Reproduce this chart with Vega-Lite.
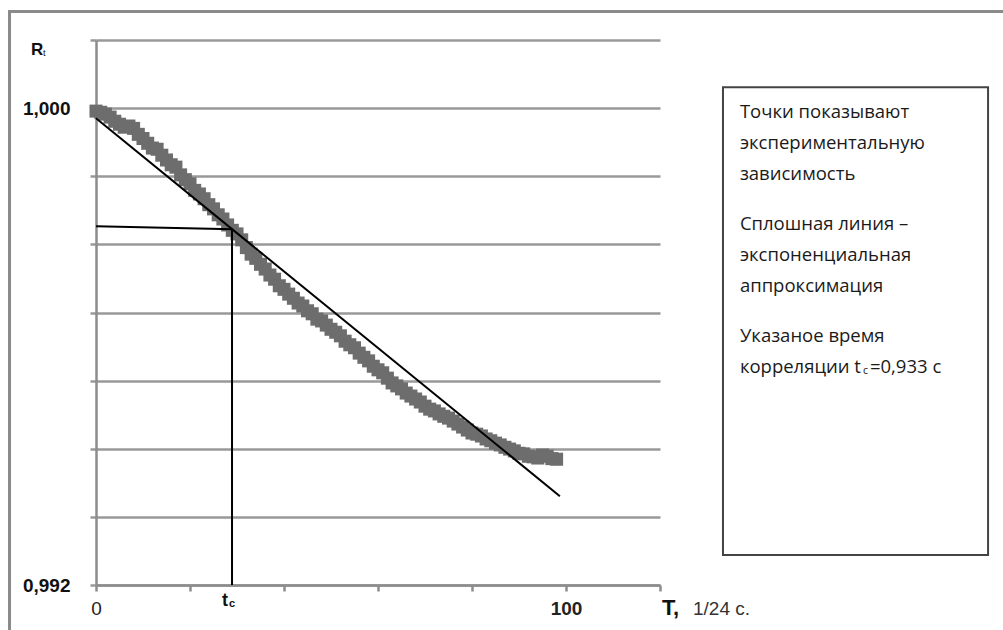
{
  "$schema": "https://vega.github.io/schema/vega-lite/v6.json",
  "width": 564,
  "height": 545,
  "autosize": {"type": "none"},
  "padding": {"left": 96, "top": 40, "right": 343, "bottom": 45},
  "background": "white",
  "config": {
    "view": {"stroke": null},
    "font": "Liberation Sans",
    "axisX": {"labelFontSize": 19, "labelPadding": 8},
    "axisY": {"labelFontSize": 19, "labelPadding": 20, "labelFontWeight": "bold"}
  },
  "datasets": {
    "one": [{}],
    "points": [
      {"T":0,"R":0.99995},{"T":1,"R":0.99993},{"T":2,"R":0.9999},{"T":3,"R":0.99985},{"T":4,"R":0.99978},
      {"T":5,"R":0.99973},{"T":6,"R":0.99968},{"T":7,"R":0.9997},{"T":8,"R":0.99966},{"T":9,"R":0.99956},
      {"T":10,"R":0.99949},{"T":11,"R":0.99941},{"T":12,"R":0.99933},{"T":13,"R":0.99931},{"T":14,"R":0.99921},
      {"T":15,"R":0.99913},{"T":16,"R":0.99905},{"T":17,"R":0.99901},{"T":18,"R":0.99888},{"T":19,"R":0.9988},
      {"T":20,"R":0.99873},{"T":21,"R":0.99862},{"T":22,"R":0.99856},{"T":23,"R":0.99848},{"T":24,"R":0.99838},
      {"T":25,"R":0.99831},{"T":26,"R":0.99821},{"T":27,"R":0.99814},{"T":28,"R":0.99804},{"T":29,"R":0.99795},
      {"T":30,"R":0.99789},{"T":31,"R":0.99779},{"T":32,"R":0.99766},{"T":33,"R":0.99755},{"T":34,"R":0.99748},
      {"T":35,"R":0.99738},{"T":36,"R":0.9973},{"T":37,"R":0.9972},{"T":38,"R":0.99713},{"T":39,"R":0.99702},
      {"T":40,"R":0.99696},{"T":41,"R":0.99688},{"T":42,"R":0.99681},{"T":43,"R":0.99673},{"T":44,"R":0.99668},
      {"T":45,"R":0.9966},{"T":46,"R":0.99655},{"T":47,"R":0.99646},{"T":48,"R":0.99643},{"T":49,"R":0.99636},
      {"T":50,"R":0.99629},{"T":51,"R":0.99624},{"T":52,"R":0.99618},{"T":53,"R":0.99609},{"T":54,"R":0.99603},
      {"T":55,"R":0.99598},{"T":56,"R":0.99589},{"T":57,"R":0.99582},{"T":58,"R":0.99576},{"T":59,"R":0.99567},
      {"T":60,"R":0.99561},{"T":61,"R":0.99556},{"T":62,"R":0.99547},{"T":63,"R":0.99539},{"T":64,"R":0.99534},
      {"T":65,"R":0.99529},{"T":66,"R":0.99522},{"T":67,"R":0.99517},{"T":68,"R":0.99512},{"T":69,"R":0.99507},
      {"T":70,"R":0.995},{"T":71,"R":0.99495},{"T":72,"R":0.99492},{"T":73,"R":0.99487},{"T":74,"R":0.99483},
      {"T":75,"R":0.9948},{"T":76,"R":0.99475},{"T":77,"R":0.9947},{"T":78,"R":0.99465},{"T":79,"R":0.9946},
      {"T":80,"R":0.99455},{"T":81,"R":0.99453},{"T":82,"R":0.9945},{"T":83,"R":0.99445},{"T":84,"R":0.99442},
      {"T":85,"R":0.99438},{"T":86,"R":0.99435},{"T":87,"R":0.99431},{"T":88,"R":0.99428},{"T":89,"R":0.99425},
      {"T":90,"R":0.99421},{"T":91,"R":0.9942},{"T":92,"R":0.99416},{"T":93,"R":0.99415},{"T":94,"R":0.99413},
      {"T":95,"R":0.99418},{"T":96,"R":0.99416},{"T":97,"R":0.99412},{"T":98,"R":0.99411}
    ],
    "fit": [{"T": 0, "R": 0.99983}, {"T": 98.7, "R": 0.99349}],
    "tc": [{"i": 0, "T": 0, "R": 0.99802}, {"i": 1, "T": 28.94, "R": 0.99797}, {"i": 2, "T": 28.94, "R": 0.992}]
  },
  "layer": [
    {
      "data": {"name": "points"},
      "mark": {"type": "square", "size": 170, "color": "#6d6d6d", "opacity": 1, "filled": true},
      "encoding": {
        "x": {
          "field": "T", "type": "quantitative", "title": null,
          "scale": {"domain": [0, 120], "nice": false, "zero": false},
          "axis": {
            "values": [0, 20, 40, 60, 80, 100, 120],
            "labelExpr": "datum.value == 0 ? '0' : datum.value == 100 ? '100' : ''",
            "grid": false,
            "domainColor": "#8c8c8c", "domainWidth": 2.5,
            "tickColor": "#8c8c8c", "tickWidth": 2.5, "tickSize": 6,
            "labelFontSize": 19, "labelColor": "#222",
            "labelFontWeight": {"condition": {"test": "datum.value == 100", "value": "bold"}, "value": "normal"},
            "labelPadding": 8, "labelFlush": false
          }
        },
        "y": {
          "field": "R", "type": "quantitative", "title": null,
          "scale": {"domain": [0.992, 1.00114286], "nice": false, "zero": false},
          "axis": {
            "values": [0.992, 0.99314286, 0.99428571, 0.99542857, 0.99657143, 0.99771429, 0.99885714, 1.0, 1.00114286],
            "labelExpr": "abs(datum.value - 1) < 0.000001 ? '1,000' : abs(datum.value - 0.992) < 0.000001 ? '0,992' : ''",
            "grid": true, "gridColor": "#999999", "gridWidth": 2.5,
            "domainColor": "#8c8c8c", "domainWidth": 2.5,
            "tickColor": "#999999", "tickWidth": 2.5, "tickSize": 6,
            "labelFontSize": 19, "labelFontWeight": "bold", "labelColor": "#111",
            "labelPadding": 20, "labelFlush": false
          }
        }
      }
    },
    {
      "data": {"name": "one"},
      "mark": {"type": "rect", "fill": null, "stroke": "#8a8a8a", "strokeWidth": 3},
      "encoding": {
        "x": {"datum": -18.4, "type": "quantitative", "title": null},
        "x2": {"datum": 260},
        "y": {"datum": 1.00162, "type": "quantitative", "title": null},
        "y2": {"datum": 0.98}
      }
    },
    {
      "data": {"name": "fit"},
      "mark": {"type": "line", "color": "#000000", "strokeWidth": 2},
      "encoding": {
        "x": {"field": "T", "type": "quantitative", "title": null},
        "y": {"field": "R", "type": "quantitative", "title": null}
      }
    },
    {
      "data": {"name": "tc"},
      "mark": {"type": "line", "color": "#000000", "strokeWidth": 2},
      "encoding": {
        "x": {"field": "T", "type": "quantitative", "title": null},
        "y": {"field": "R", "type": "quantitative", "title": null},
        "order": {"field": "i"}
      }
    },
    {
      "data": {"name": "one"},
      "mark": {"type": "text", "text": "t", "fontSize": 18, "fontWeight": "bold", "align": "left", "baseline": "alphabetic", "dx": -10, "dy": 21, "color": "#111"},
      "encoding": {"x": {"datum": 28.94, "type": "quantitative", "title": null}, "y": {"datum": 0.992, "type": "quantitative", "title": null}}
    },
    {
      "data": {"name": "one"},
      "mark": {"type": "text", "text": "c", "fontSize": 11, "fontWeight": "bold", "align": "left", "baseline": "alphabetic", "dx": -3, "dy": 22, "color": "#111"},
      "encoding": {"x": {"datum": 28.94, "type": "quantitative", "title": null}, "y": {"datum": 0.992, "type": "quantitative", "title": null}}
    },
    {
      "data": {"name": "one"},
      "mark": {"type": "text", "text": "R", "fontSize": 17, "fontWeight": "bold", "align": "left", "baseline": "alphabetic", "dx": -65, "dy": 15, "color": "#111"},
      "encoding": {"x": {"datum": 0, "type": "quantitative", "title": null}, "y": {"datum": 1.00114286, "type": "quantitative", "title": null}}
    },
    {
      "data": {"name": "one"},
      "mark": {"type": "text", "text": "t", "fontSize": 9, "fontWeight": "normal", "align": "left", "baseline": "alphabetic", "dx": -53, "dy": 16, "color": "#111"},
      "encoding": {"x": {"datum": 0, "type": "quantitative", "title": null}, "y": {"datum": 1.00114286, "type": "quantitative", "title": null}}
    },
    {
      "data": {"name": "one"},
      "mark": {"type": "text", "text": "T,", "fontSize": 22, "fontWeight": "bold", "align": "left", "baseline": "alphabetic", "dx": 2, "dy": 30, "color": "#111"},
      "encoding": {"x": {"datum": 120, "type": "quantitative", "title": null}, "y": {"datum": 0.992, "type": "quantitative", "title": null}}
    },
    {
      "data": {"name": "one"},
      "mark": {"type": "text", "text": "1/24 с.", "fontSize": 19, "align": "left", "baseline": "alphabetic", "dx": 33, "dy": 30, "color": "#333"},
      "encoding": {"x": {"datum": 120, "type": "quantitative", "title": null}, "y": {"datum": 0.992, "type": "quantitative", "title": null}}
    },
    {
      "data": {"name": "one"},
      "mark": {"type": "rect", "fill": "white", "stroke": "#444444", "strokeWidth": 2},
      "encoding": {
        "x": {"datum": 133.4, "type": "quantitative", "title": null},
        "x2": {"datum": 189.8},
        "y": {"datum": 1.000352, "type": "quantitative", "title": null},
        "y2": {"datum": 0.992504}
      }
    },
    {
      "data": {"name": "one"},
      "mark": {"type": "text", "text": ["Точки показывают", "экспериментальную", "зависимость"], "font": "Open Sans", "fontSize": 18.5, "lineHeight": 31, "align": "left", "baseline": "alphabetic", "color": "#1a1a1a"},
      "encoding": {"x": {"datum": 137, "type": "quantitative", "title": null}, "y": {"datum": 0.999832, "type": "quantitative", "title": null}}
    },
    {
      "data": {"name": "one"},
      "mark": {"type": "text", "text": ["Сплошная линия –", "экспоненциальная", "аппроксимация"], "font": "Open Sans", "fontSize": 18.5, "lineHeight": 31, "align": "left", "baseline": "alphabetic", "color": "#1a1a1a"},
      "encoding": {"x": {"datum": 137, "type": "quantitative", "title": null}, "y": {"datum": 0.997954, "type": "quantitative", "title": null}}
    },
    {
      "data": {"name": "one"},
      "mark": {"type": "text", "text": ["Указаное время", "корреляции t"], "font": "Open Sans", "fontSize": 18.5, "lineHeight": 31, "align": "left", "baseline": "alphabetic", "color": "#1a1a1a"},
      "encoding": {"x": {"datum": 137, "type": "quantitative", "title": null}, "y": {"datum": 0.996075, "type": "quantitative", "title": null}}
    },
    {
      "data": {"name": "one"},
      "mark": {"type": "text", "text": "c", "font": "Open Sans", "fontSize": 10.5, "align": "left", "baseline": "alphabetic", "dx": 123, "dy": 32, "color": "#1a1a1a"},
      "encoding": {"x": {"datum": 137, "type": "quantitative", "title": null}, "y": {"datum": 0.996075, "type": "quantitative", "title": null}}
    },
    {
      "data": {"name": "one"},
      "mark": {"type": "text", "text": "=0,933 с", "font": "Open Sans", "fontSize": 18.5, "align": "left", "baseline": "alphabetic", "dx": 130, "dy": 31, "color": "#1a1a1a"},
      "encoding": {"x": {"datum": 137, "type": "quantitative", "title": null}, "y": {"datum": 0.996075, "type": "quantitative", "title": null}}
    }
  ]
}
